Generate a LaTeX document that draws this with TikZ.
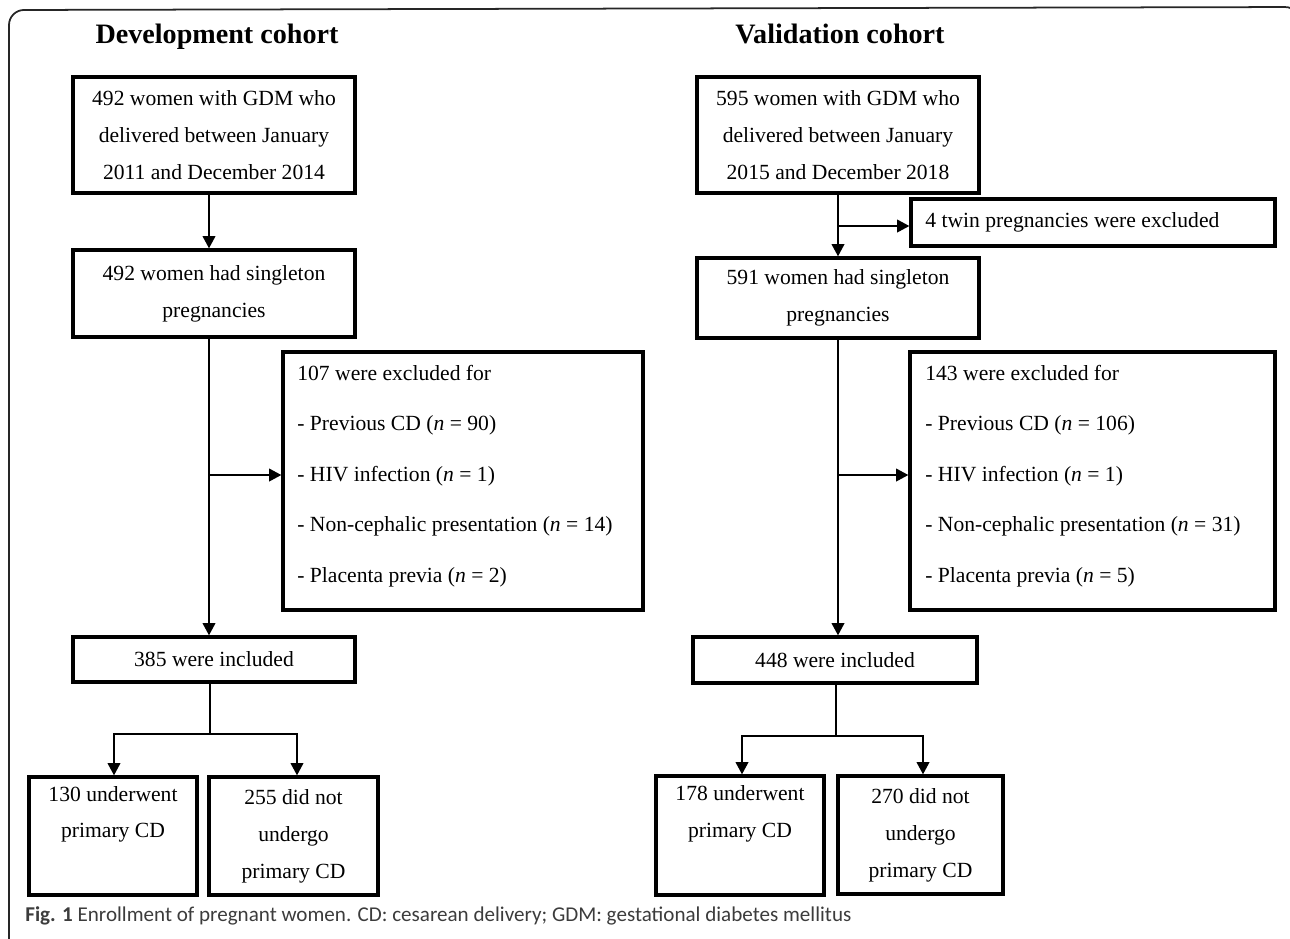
\documentclass[tikz,border=0pt]{standalone}
\usepackage{fontspec}
\setmainfont{Liberation Serif}
\newfontfamily\capfont{Carlito}
\usetikzlibrary{arrows.meta}
\definecolor{capgray}{HTML}{3C3C3C}
\tikzset{
  box/.style={draw, line width=1.8pt, inner sep=0pt, align=center, font=\fontsize{12.3}{21}\selectfont},
  txt/.style={inner sep=0pt, align=left, font=\fontsize{12.3}{28.7}\selectfont},
  conn/.style={line width=1.5pt},
  arr/.style={conn, -{Triangle[length=7pt,width=7pt]}},
  ttl/.style={inner sep=0pt, font=\fontsize{16}{19}\selectfont\bfseries},
  frame/.style={line width=1pt, draw=black!85, rounded corners=0.3cm}
}
\begin{document}
\begin{tikzpicture}[x=0.02cm,y=-0.02cm]
\useasboundingbox (0,0) rectangle (1290,938);
\draw[frame] (9,980) -- (9,10) -- (1300,7) -- (1300,980);

% titles
\node[ttl, anchor=base] (tl) at (217,43) {Development cohort};
\node[ttl, anchor=base] (tr) at (840,43) {Validation cohort};

% left column
\node[box, minimum width=5.64cm, minimum height=2.32cm] (A1) at (214,135) {492 women with GDM who\\delivered between January\\2011 and December 2014};
\node[box, minimum width=5.64cm, minimum height=1.74cm] (A2) at (214,293.5) {492 women had singleton\\pregnancies};
\node[box, minimum width=7.20cm, minimum height=5.16cm] (A4) at (463,481) {};
\node[txt, anchor=west] (A4t) at (297,476) {107 were excluded for\\- Previous CD (\textit{n} = 90)\\- HIV infection (\textit{n} = 1)\\- Non-cephalic presentation (\textit{n} = 14)\\- Placenta previa (\textit{n} = 2)};
\node[box, minimum width=5.64cm, minimum height=0.90cm] (A3) at (214,659.5) {385 were included};
\node[box, minimum width=3.36cm, minimum height=2.36cm] (A5) at (113,836) {130 underwent\\primary CD\\\strut};
\node[box, minimum width=3.38cm, minimum height=2.36cm] (A6) at (293.5,836) {255 did not\\undergo\\primary CD};

\coordinate (cL) at (209,0);
\coordinate (brL) at (0,475);
\coordinate (dL) at (210,0);
\coordinate (spL1) at (114,734);
\coordinate (spL2) at (297,734);
\draw[arr] (A1.south -| cL) -- (A2.north -| cL);
\draw[arr] (A2.south -| cL) -- (A3.north -| cL);
\draw[arr] (cL |- brL) -- (A4.west |- brL);
\draw[conn] (A3.south -| dL) -- (dL |- spL1);
\draw[arr] (dL |- spL1) -| (A5.north -| spL1);
\draw[arr] (dL |- spL1) -| (A6.north -| spL2);

% right column
\node[box, minimum width=5.64cm, minimum height=2.32cm] (B1) at (838,135) {595 women with GDM who\\delivered between January\\2015 and December 2018};
\node[box, minimum width=7.28cm, minimum height=0.94cm] (Tw) at (1093,222.5) {};
\node[txt, anchor=base west] (Twt) at (925,227) {4 twin pregnancies were excluded};
\node[box, minimum width=5.64cm, minimum height=1.60cm] (B2) at (838,298) {591 women had singleton\\pregnancies};
\node[box, minimum width=7.30cm, minimum height=5.16cm] (B4) at (1092.5,481) {};
\node[txt, anchor=west] (B4t) at (925,476) {143 were excluded for\\- Previous CD (\textit{n} = 106)\\- HIV infection (\textit{n} = 1)\\- Non-cephalic presentation (\textit{n} = 31)\\- Placenta previa (\textit{n} = 5)};
\node[box, minimum width=5.68cm, minimum height=0.92cm] (B3) at (835,660) {448 were included};
\node[box, minimum width=3.36cm, minimum height=2.38cm] (B5) at (740,835.5) {178 underwent\\primary CD\\\strut};
\node[box, minimum width=3.30cm, minimum height=2.36cm] (B6) at (920.5,835) {270 did not\\undergo\\primary CD};

\coordinate (cR) at (838,0);
\coordinate (brR1) at (0,226);
\coordinate (brR2) at (0,475);
\coordinate (dR) at (836,0);
\coordinate (spR1) at (742,736);
\coordinate (spR2) at (923,736);
\draw[arr] (B1.south -| cR) -- (B2.north -| cR);
\draw[arr] (cR |- brR1) -- (Tw.west |- brR1);
\draw[arr] (B2.south -| cR) -- (B3.north -| cR);
\draw[arr] (cR |- brR2) -- (B4.west |- brR2);
\draw[conn] (B3.south -| dR) -- (dR |- spR1);
\draw[arr] (dR |- spR1) -| (B5.north -| spR1);
\draw[arr] (dR |- spR1) -| (B6.north -| spR2);

% caption
\node[inner sep=0pt, anchor=base west, text=capgray, font=\capfont\fontsize{12}{14}\selectfont] (cap) at (25,921) {\textbf{Fig. 1} Enrollment of pregnant women. CD: cesarean delivery; GDM: gestational diabetes mellitus};
\end{tikzpicture}
\end{document}
